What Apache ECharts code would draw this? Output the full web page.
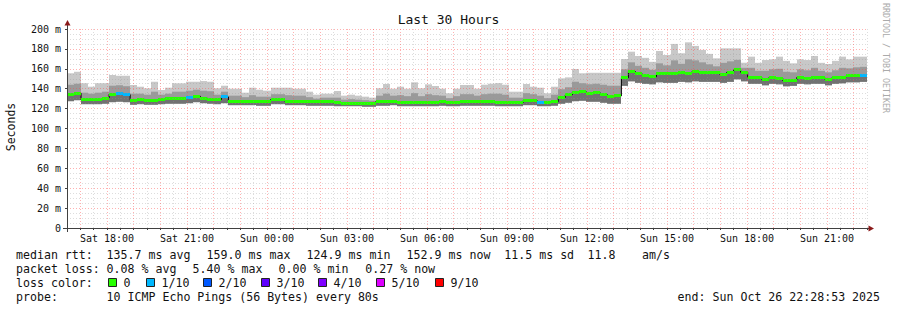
<!DOCTYPE html>
<html><head><meta charset="utf-8">
<script src="https://cdn.jsdelivr.net/npm/echarts@6/dist/echarts.min.js"></script>
<style>html,body{margin:0;padding:0;background:#fff}#c{width:897px;height:310px}</style>
</head><body><div id="c"></div>
<script>
// time axis in hours since Sat 00:00
const startHour = 16.5, endHour = 46.5;
const tickHours = [18, 21, 24, 27, 30, 33, 36, 39, 42, 45];
const tickLabels = ['Sat 18:00','Sat 21:00','Sun 00:00','Sun 03:00','Sun 06:00','Sun 09:00','Sun 12:00','Sun 15:00','Sun 18:00','Sun 21:00'];
const yTicks = [0, 20, 40, 60, 80, 100, 120, 140, 160, 180, 200];

// median rtt per step (ms)
const median = [134.0,135.5,129.0,129.0,129.0,130.5,134.5,135.5,134.0,128.4,
129.6,128.4,128.4,129.6,130.5,130.5,130.5,131.0,132.5,130.5,
129.6,129.0,131.7,127.6,127.6,127.6,127.6,127.0,127.0,129.0,
129.0,127.6,127.6,127.6,127.0,127.0,127.0,127.0,125.8,125.6,
125.6,125.5,124.9,125.0,127.0,127.3,127.6,126.3,126.3,126.3,
125.8,126.3,126.3,127.0,126.3,126.3,127.0,127.0,127.0,127.0,
127.0,126.0,126.0,126.0,126.0,128.0,128.0,126.6,126.6,127.0,
131.0,133.7,136.3,137.0,135.4,136.0,134.0,132.4,132.7,151.0,
157.3,154.8,152.8,152.0,155.5,154.8,154.8,156.0,155.5,156.8,
156.0,156.0,156.0,154.5,156.5,159.0,156.5,151.4,151.4,149.4,
151.0,150.4,148.0,148.7,151.4,150.4,151.0,151.0,149.4,151.0,
151.4,152.8,152.8,152.9];
// top of smoke (slowest ping)
const smokeMax = [155.5,157,145.5,142,145.5,145.5,153.8,153,153,143.7,
142,140.4,147,138.7,141,145.4,145.4,147,147,147.7,
147,140.4,143,140,140,136,141,139,138,141,
141,141,140,140,137,134,135,135,137.7,133,
134,133,132,131,140.4,144.7,140,142,140,146.4,
140.4,144.4,142.7,140,135.4,140,143.7,143.7,140,144,
145,145.6,144,137,137,144.7,142,141,135.4,142,
150.4,151.4,159.8,155.5,156,156,156,156,156,169.8,
177.2,172.9,171,167,177.9,173.9,185,175.6,186.6,183,
179,175,170.5,180.6,180.6,180.6,166.1,172.2,166,168.8,
169.5,172.2,168,165.5,169.5,168.8,172.9,166,164.8,168,
172.2,169.5,172.2,172.2];
// top of the denser smoke band
const smokeMid = [144,145,136,135,136,137,143,143.5,142.5,135,
135,134,137,134,135,137,137,138,139,138,
137.5,134,137,133,133,131.5,133.5,132,132,134.5,
134.5,133.5,133,133,131.5,130,131,131,131,129,
129.5,129,128.5,128,133,135,133,133.5,132.5,135.5,
132.5,134.5,133.5,133,130.5,132.5,134.5,134.5,133,134.5,
135,135,134,131,131,135.5,134.5,133,130.5,134,
139.5,141.5,147,145.5,144.5,145,144,143,143,159.5,
166.5,163,161,159,165.5,163.5,168.5,165,169.5,168.5,
166.5,164.5,162.5,166,167.5,169,161,161,158,158,
159.5,160,157,156.5,159.5,158.5,161,158,156.5,158.5,
161,160.5,161.5,162];
// bottom of smoke (fastest ping)
const smokeMin = [127.5,128.5,124.5,124.5,124.5,125,126.5,127,126.5,124,
124.5,124,124,124.5,125,125,125,125.5,126.5,125.5,
125,124.5,125.5,123.5,123.5,123.5,123.5,123,123,124.5,
124.5,123.5,123.5,123.5,123,123,123,123,122.5,122.5,
122.5,122.5,122,122,123,123,123.5,122.5,122.5,122.5,
122.5,122.5,122.5,123,122.5,122.5,123,123,123,123,
123,122.5,122.5,122.5,122.5,123.5,123.5,122.5,122.5,123,
125,126,127.5,128,127,127,126,125,125,143,
147.5,146,145,144.5,146.5,146,146,147,146.5,147.5,
147,147,147,146,147,149.5,147.5,145,145,143.5,
145,144.5,142.5,143,145,144.5,145,145,143.5,145,
145.5,146.5,146.5,147];
// packet loss per step (lost pings out of 10)
const lossIdx = [0,0,0,0,0,0,0,1,1,0, 0,0,0,0,0,0,0,1,0,0, 0,0,1,0,0,0,0,0,0,0,
0,0,0,0,0,0,0,0,0,0, 0,0,0,0,0,0,0,0,0,0, 0,0,0,0,0,0,0,0,0,0,
0,0,0,0,0,0,0,1,0,0, 0,0,0,0,0,0,0,0,0,0, 0,0,0,0,0,0,0,0,0,0,
0,0,0,0,0,0,0,0,0,0, 0,0,0,0,0,0,0,0,0,0, 0,0,0,1];
const lossColors = ['#26ff00','#00b8ff','#0059ff','#5e00ff','#7e00ff','#dd00ff','#ff0000'];
const lossLabels = ['0','1/10','2/10','3/10','4/10','5/10','9/10'];

const FONT = 'DejaVu Sans Mono';
const N = median.length;
const stepH = (endHour - startHour) / N;
const tAt = i => startHour + i * stepH;

function rectLayer(name, lowArr, highArr, color, z) {
  return {
    type: 'custom', name, z, silent: true, animation: false,
    data: median.map((_, i) => [tAt(i), tAt(i + 1), lowArr[i], highArr[i]]),
    encode: {x: [0, 1], y: [2, 3]},
    renderItem: (params, api) => {
      const a = api.coord([api.value(0), api.value(3)]);
      const b = api.coord([api.value(1), api.value(2)]);
      const x0 = Math.round(a[0]), x1 = Math.round(b[0]);
      return {type: 'rect', shape: {x: x0, y: a[1], width: x1 - x0, height: b[1] - a[1]}, style: {fill: color}};
    }
  };
}

const gridRed = 'rgba(255,70,70,0.42)';
const gridGray = 'rgba(150,150,150,0.32)';

const graphics = [];
function txt(x, y, s, opts) {
  graphics.push(Object.assign({type: 'text', x, y, silent: true, z: 20,
    style: Object.assign({text: s, font: '11.6px "' + FONT + '"', fill: '#111', textAlign: 'left', textVerticalAlign: 'middle'}, opts || {})}));
}
// axis decorations
graphics.push({type: 'line', z: 20, shape: {x1: 67.5, y1: 29, x2: 67.5, y2: 23}, style: {stroke: '#404040', lineWidth: 1}});
graphics.push({type: 'line', z: 20, shape: {x1: 67.5, y1: 228, x2: 67.5, y2: 232}, style: {stroke: '#404040', lineWidth: 1}});
graphics.push({type: 'line', z: 20, shape: {x1: 63, y1: 228.5, x2: 67, y2: 228.5}, style: {stroke: '#404040', lineWidth: 1}});
graphics.push({type: 'line', z: 20, shape: {x1: 867, y1: 228.5, x2: 870, y2: 228.5}, style: {stroke: '#404040', lineWidth: 1}});
graphics.push({type: 'polygon', z: 21, shape: {points: [[64.5, 25.5], [70.5, 25.5], [67.5, 20]]}, style: {fill: '#8b1a1a'}});
graphics.push({type: 'polygon', z: 21, shape: {points: [[868.5, 225.5], [868.5, 231.5], [874, 228.5]]}, style: {fill: '#8b1a1a'}});
// side texts
graphics.push({type: 'text', x: 11, y: 127, rotation: Math.PI / 2, z: 20, style: {text: 'Seconds', font: '11.5px "' + FONT + '"', fill: '#111', textAlign: 'center', textVerticalAlign: 'middle'}});
graphics.push({type: 'text', x: 886, y: 58, rotation: -Math.PI / 2, z: 20, style: {text: 'RRDTOOL / TOBI OETIKER', font: '8.3px "' + FONT + '"', fill: '#aaaaaa', textAlign: 'center', textVerticalAlign: 'middle'}});
// footer
const line1 = [[16, 'median rtt:'], [106.6, '135.7 ms avg'], [206.6, '159.0 ms max'], [306.6, '124.9 ms min'], [406.6, '152.9 ms now'], [504.3, '11.5 ms sd'], [587.6, '11.8'], [642, 'am/s']];
const line2 = [[16, 'packet loss:'], [106.6, '0.08 % avg'], [192.6, '5.40 % max'], [278.6, '0.00 % min'], [365.3, '0.27 % now']];
const line4 = [[16, 'probe:'], [106.6, '10 ICMP Echo Pings (56 Bytes) every 80s'], [677.6, 'end: Sun Oct 26 22:28:53 2025']];
line1.forEach(([x, s]) => txt(x, 254.5, s));
line2.forEach(([x, s]) => txt(x, 268.5, s));
line4.forEach(([x, s]) => txt(x, 296.5, s));
txt(16, 282.5, 'loss color:');
const sqX = [108.5, 146.5, 203.5, 261.5, 318.5, 376.5, 435.5];
lossColors.forEach((c, k) => {
  graphics.push({type: 'rect', z: 20, shape: {x: sqX[k], y: 278.5, width: 8, height: 8}, style: {fill: c, stroke: '#222', lineWidth: 1}});
  txt(sqX[k] + 15, 282.5, lossLabels[k]);
});

const option = {
  animation: false,
  backgroundColor: '#ffffff',
  title: {text: 'Last 30 Hours', left: 'center', top: 13, padding: 0,
    textStyle: {fontFamily: FONT, fontSize: 13, fontWeight: 'normal', color: '#111'}},
  grid: {left: 67, right: 30, top: 29, bottom: 82, containLabel: false},
  xAxis: {
    type: 'value', min: startHour, max: endHour, interval: 0.5, z: 10,
    axisLine: {show: true, lineStyle: {color: '#404040', width: 1}},
    axisTick: {show: true, length: 2, lineStyle: {color: '#404040'}},
    axisLabel: {show: true, margin: 5, fontFamily: FONT, fontSize: 10, color: '#111',
      formatter: v => { const k = tickHours.indexOf(Math.round(v * 2) / 2); return k >= 0 ? tickLabels[k] : ''; }},
    splitLine: {show: true, lineStyle: {color: [gridGray, gridRed], width: 1, type: [1, 2]}}
  },
  yAxis: {
    type: 'value', min: yTicks[0], max: yTicks[yTicks.length - 1], interval: 20, z: 10,
    axisLine: {show: true, lineStyle: {color: '#404040', width: 1}},
    axisTick: {show: true, length: 2, lineStyle: {color: '#404040'}},
    axisLabel: {margin: 6, fontFamily: FONT, fontSize: 10, color: '#111',
      formatter: v => v === 0 ? '0' : v + ' m'},
    splitLine: {show: true, lineStyle: {color: gridRed, width: 1, type: [1, 2]}},
    minorTick: {show: false, splitNumber: 4},
    minorSplitLine: {show: true, lineStyle: {color: gridGray, width: 1, type: [1, 2]}}
  },
  series: [
    rectLayer('smoke light', smokeMin, smokeMax, '#c8c8c8', 2),
    rectLayer('smoke mid', smokeMin, smokeMid, '#9a9a9a', 2),
    rectLayer('smoke dark', smokeMin, median, '#727272', 2),
    {
      type: 'line', name: 'median line', step: 'end', z: 4, silent: true, animation: false,
      symbol: 'none', lineStyle: {color: '#000', width: 1},
      data: median.map((m, i) => [tAt(i), m]).concat([[endHour, median[N - 1]]])
    },
    {
      type: 'custom', name: 'median rtt', z: 5, silent: true, animation: false,
      data: median.map((m, i) => [tAt(i), tAt(i + 1), m, lossIdx[i]]),
      encode: {x: [0, 1], y: 2},
      renderItem: (params, api) => {
        const a = api.coord([api.value(0), api.value(2)]);
        const b = api.coord([api.value(1), api.value(2)]);
        const x0 = Math.round(a[0]), x1 = Math.round(b[0]);
        return {type: 'rect', shape: {x: x0, y: Math.round(a[1] - 1.5), width: x1 - x0, height: 3},
          style: {fill: lossColors[api.value(3)]}};
      }
    }
  ],
  graphic: graphics
};

const chart = echarts.init(document.getElementById('c'), null, {renderer: 'svg', width: 897, height: 310});
chart.setOption(option);
</script>
</body></html>
